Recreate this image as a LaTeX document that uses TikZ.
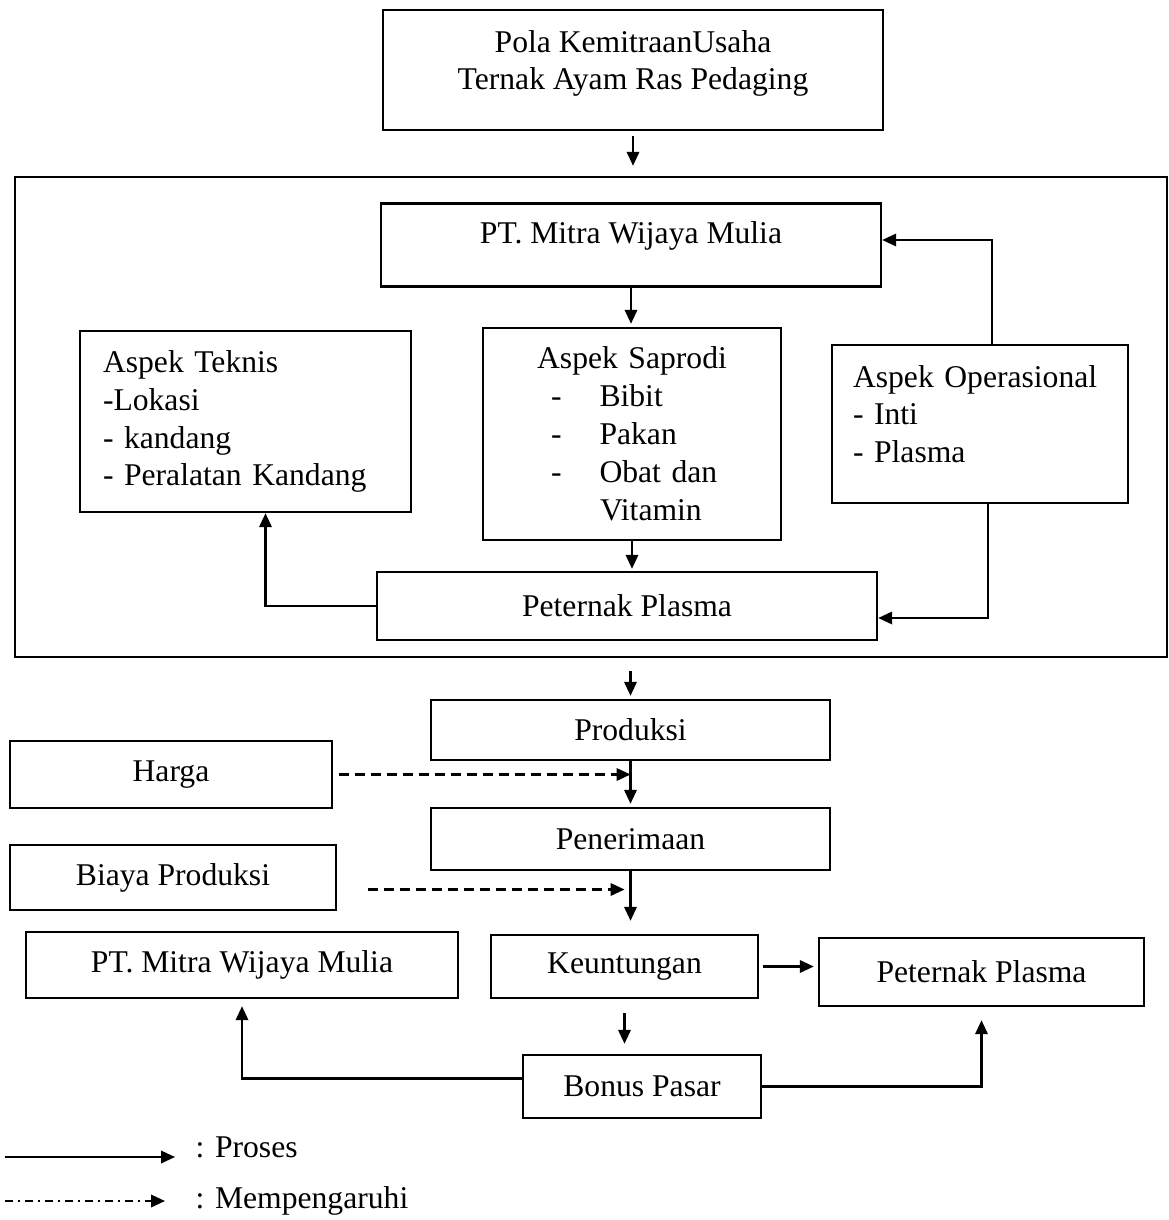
\documentclass[tikz,border=0pt]{standalone}
\usepackage{fontspec}
\setmainfont{Liberation Serif}
\usetikzlibrary{positioning, calc, arrows.meta}

\begin{document}
\begin{tikzpicture}[x=0.1mm, y=-0.1mm,
  font=\fontsize{9}{10.8}\selectfont,
  box/.style={draw, line width=0.7pt, inner sep=0pt, align=center},
  proc/.style={draw, line width=0.6pt, -{Triangle[length=1.4mm, width=1.25mm]}},
  infl/.style={proc, dash pattern=on 1mm off 0.6mm}]
  \useasboundingbox (0,0) rectangle (1169,1220);
  % Top
  \node[box, minimum width=50mm, minimum height=12mm] (pola) at (633,70) {Pola KemitraanUsaha\\Ternak Ayam Ras Pedaging\\[-1.8mm]\mbox{}};
  \node[draw, line width=0.7pt, minimum width=115.2mm, minimum height=48mm] (frame) at (591,417) {};
  % Inside the frame
  \node[box, minimum width=50mm, minimum height=8.3mm, text depth=2.4mm] (mitra) at (631,245) {PT. Mitra Wijaya Mulia};
  \node[box, align=left, text width=28.5mm, inner xsep=2.3mm, minimum height=18.1mm] (teknis) at (245.5,421.5)
    {Aspek Teknis\\-Lokasi\\- kandang\\- Peralatan Kandang};
  \node[box, align=left, text width=29.8mm, minimum height=21.2mm] (saprodi) at (632,434)
    {\makebox[29.8mm]{Aspek Saprodi}\\
     \hspace*{6.8mm}-\hspace{3.8mm}Bibit\\
     \hspace*{6.8mm}-\hspace{3.8mm}Pakan\\
     \hspace*{6.8mm}-\hspace{3.8mm}Obat dan\\
     \hspace*{11.7mm}Vitamin};
  \node[box, align=left, text width=25.4mm, inner xsep=2.1mm, minimum height=15.8mm] (opera) at (980,424)
    {Aspek Operasional\\- Inti\\- Plasma\\[-1.8mm]\mbox{}};
  \node[box, minimum width=50mm, minimum height=6.8mm] (plasma) at (627,606) {Peternak Plasma};
  % Below the frame
  \node[box, minimum width=39.9mm, minimum height=6mm] (prod) at (630.5,730) {Produksi};
  \node[box, minimum width=32.2mm, minimum height=6.7mm] (harga) at (171,774.5) {Harga};
  \node[box, minimum width=39.9mm, minimum height=6.2mm] (terima) at (630.5,839) {Penerimaan};
  \node[box, minimum width=32.6mm, minimum height=6.5mm] (biaya) at (173,877.5) {Biaya Produksi};
  \node[box, minimum width=43.2mm, minimum height=6.6mm] (mitrab) at (242,965) {PT. Mitra Wijaya Mulia};
  \node[box, minimum width=26.7mm, minimum height=6.3mm] (untung) at (624.5,966.5) {Keuntungan};
  \node[box, minimum width=32.5mm, minimum height=6.8mm] (plasmab) at (981.5,972) {Peternak Plasma};
  \node[box, minimum width=23.8mm, minimum height=6.3mm] (bonus) at (642,1086.5) {Bonus Pasar};
  % Arrows
  \draw[proc, shorten <=0.5mm, shorten >=1mm] (pola.south) -- (pola.south |- frame.north);
  \draw[proc, shorten >=0.3mm] (mitra.south) -- (mitra.south |- saprodi.north);
  \draw[proc, shorten >=0.2mm] (saprodi.south) -- (saprodi.south |- plasma.north);
  \draw[proc] (plasma.west) -| ([xshift=2mm]teknis.south);
  \draw[proc] ([xshift=1.2mm]opera.north) |- ([yshift=0.5mm]mitra.east);
  \draw[proc] ([xshift=0.8mm]opera.south) |- ([yshift=-1.2mm]plasma.east);
  \draw[proc, shorten <=1.3mm, shorten >=0.3mm] (frame.south -| prod.north) -- (prod.north);
  \draw[proc, shorten >=0.3mm] (prod.south) -- (prod.south |- terima.north);
  \draw[infl, shorten <=0.6mm] (harga.east) -- (harga.east -| prod.south);
  \draw[proc, shorten >=1.3mm] (terima.south) -- (terima.south |- untung.north);
  \draw[infl, shorten <=3.1mm, shorten >=0.6mm] ([yshift=-1.2mm]biaya.east) -- ([yshift=-1.2mm]biaya.east -| terima.south);
  \draw[proc, shorten <=0.4mm, shorten >=0.4mm] (untung.east) -- (untung.east -| plasmab.west);
  \draw[proc, shorten <=1.4mm, shorten >=1mm] (untung.south) -- (untung.south |- bonus.north);
  \draw[proc, shorten >=0.7mm] ([yshift=0.8mm]bonus.west) -| (mitrab.south);
  \draw[proc, shorten >=1.3mm] (bonus.east) -| (plasmab.south);
  % Legend
  \node[anchor=west, inner sep=1mm] (kproses) at (185,1147) {: Proses};
  \node[anchor=west, inner sep=1mm] (kpengaruh) at (185,1201) {: Mempengaruhi};
  \coordinate (kp1) at (5,1157);
  \coordinate (kp2) at (5,1201);
  \draw[proc, shorten >=1mm] (kp1) -- (kp1 -| kproses.west);
  \draw[proc, dash pattern=on 0.8mm off 0.5mm on 0.2mm off 0.5mm, shorten >=2mm] (kp2) -- (kp2 -| kpengaruh.west);
\end{tikzpicture}
\end{document}
